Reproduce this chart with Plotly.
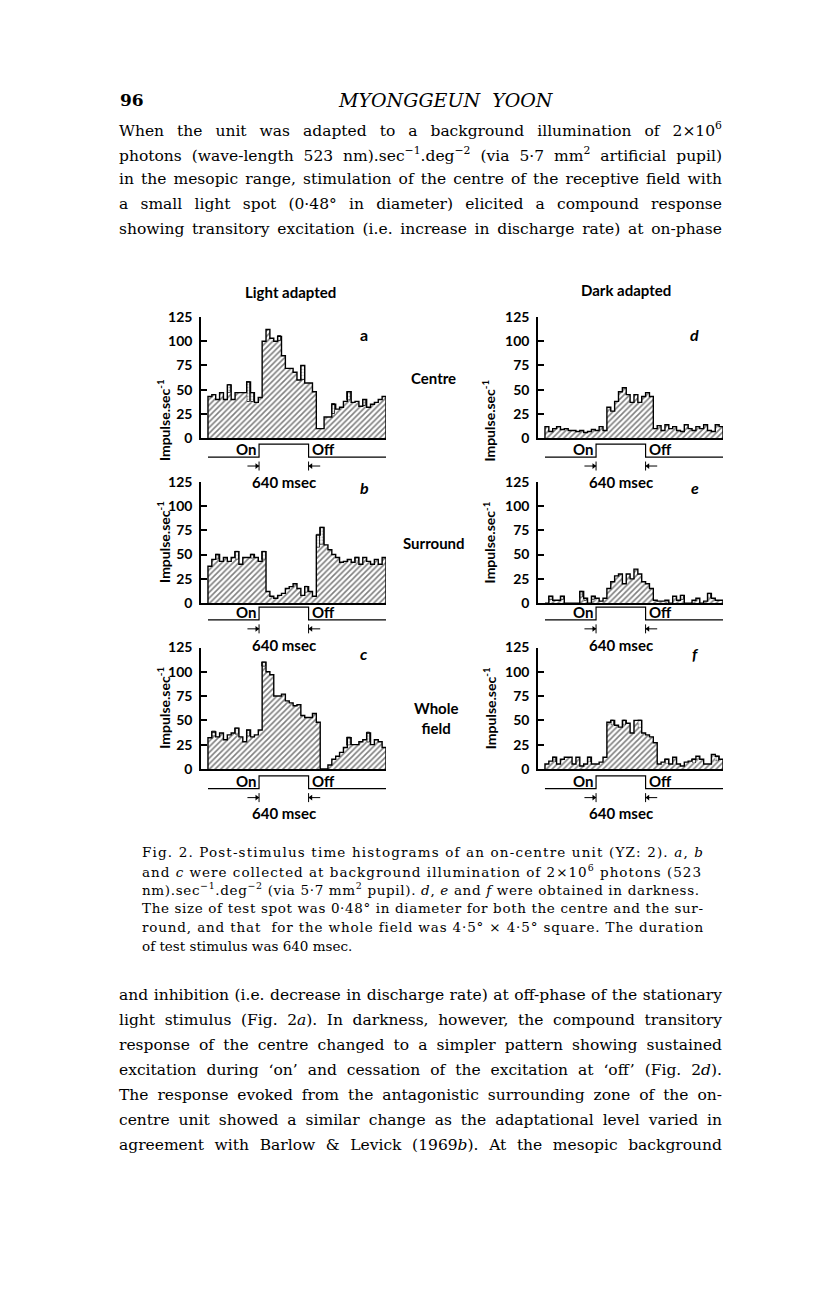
import json
import plotly.graph_objects as go

W, H = 816, 1296

# time base (msec): 46 bins of 50 msec, 640 msec light stimulus
bin_ms = 50
stim_on = 660
stim_off = 1300
t_end = 2300
arrow_ms = 150
yticks = [0, 25, 50, 75, 100, 125]

# impulse rates (impulse/sec) per bin
rate_a = [43, 45, 40, 47, 40, 55, 40, 47, 47, 47, 58, 47, 37, 42, 100, 112,
          103, 100, 105, 85, 72, 72, 68, 60, 75, 57, 57, 48, 10, 10, 22, 22,
          35, 30, 32, 38, 48, 37, 38, 33, 40, 32, 35, 37, 40, 43]
dots_a = [0, 0, 0, 0, 0, 8, 0, 0, 0, 0, 21, 10, 0, 0, 0, 0,
          0, 0, 5, 0, 0, 0, 0, 0, 15, 0, 0, 0, 0, 0, 0, 0,
          10, 0, 0, 0, 8, 0, 0, 0, 7, 0, 0, 0, 0, 0]

rate_b = [38, 45, 50, 43, 47, 43, 47, 53, 40, 47, 47, 50, 47, 43, 53, 12,
          7, 5, 8, 10, 15, 17, 20, 15, 8, 17, 12, 7, 70, 78, 60, 55,
          50, 47, 42, 43, 45, 42, 47, 40, 47, 43, 40, 45, 40, 47]
dots_b = [0, 0, 5, 0, 0, 0, 0, 8, 0, 0, 0, 4, 0, 0, 8, 0,
          0, 0, 0, 0, 0, 0, 0, 0, 0, 6, 0, 0, 13, 18, 0, 0,
          0, 0, 0, 0, 0, 0, 4, 0, 0, 0, 0, 0, 0, 0]

rate_c = [32, 38, 33, 37, 30, 35, 37, 42, 33, 28, 40, 33, 35, 40, 110, 100,
          97, 75, 75, 77, 70, 68, 65, 66, 55, 53, 53, 57, 48, 0, 0, 4,
          10, 13, 17, 22, 32, 25, 25, 28, 30, 37, 25, 30, 28, 22]
dots_c = [0, 5, 0, 0, 0, 0, 0, 7, 0, 0, 7, 0, 0, 0, 5, 0,
          0, 0, 0, 0, 0, 0, 0, 0, 0, 0, 0, 0, 0, 0, 0, 0,
          0, 0, 0, 0, 8, 0, 0, 0, 0, 10, 0, 0, 0, 0]

rate_d = [12, 7, 10, 12, 9, 10, 8, 8, 7, 8, 6, 7, 9, 8, 12, 8,
          32, 28, 38, 48, 52, 45, 37, 45, 37, 43, 47, 43, 10, 13, 8, 14,
          10, 12, 8, 7, 14, 10, 8, 12, 10, 14, 8, 7, 14, 12]
dots_d = [0] * 46

rate_e = [0, 7, 3, 3, 7, 0, 0, 0, 0, 12, 5, 0, 7, 5, 2, 5,
          15, 22, 28, 30, 20, 30, 25, 35, 30, 22, 20, 15, 3, 2, 2, 3,
          0, 7, 3, 8, 0, 0, 3, 5, 0, 2, 10, 5, 3, 3]
dots_e = [0, 4, 0, 0, 4, 0, 0, 0, 0, 6, 3, 0, 4, 0, 0, 0,
          0, 0, 0, 0, 0, 0, 0, 0, 0, 0, 0, 0, 0, 0, 0, 0,
          0, 0, 0, 5, 0, 0, 0, 0, 0, 0, 5, 0, 0, 0]

rate_f = [5, 8, 12, 5, 10, 12, 12, 5, 12, 3, 5, 12, 5, 5, 7, 12,
          48, 50, 45, 43, 50, 47, 37, 50, 50, 37, 35, 33, 27, 5, 7, 10,
          5, 12, 5, 3, 7, 8, 10, 13, 10, 5, 5, 15, 13, 10]
dots_f = [0, 0, 5, 0, 0, 0, 0, 0, 0, 0, 0, 5, 0, 0, 0, 0,
          0, 5, 0, 0, 5, 0, 0, 0, 8, 0, 0, 0, 0, 0, 0, 5,
          0, 0, 0, 0, 0, 0, 4, 0, 0, 0, 0, 0, 5, 0]

# panel: letter, rates, dotted tops, column (0 light / 1 dark), row
panels = [
    ("a", rate_a, dots_a, 0, 0),
    ("b", rate_b, dots_b, 0, 1),
    ("c", rate_c, dots_c, 0, 2),
    ("d", rate_d, dots_d, 1, 0),
    ("e", rate_e, dots_e, 1, 1),
    ("f", rate_f, dots_f, 1, 2),
]

col_x = [(201, 386), (538, 723)]        # pixel span of each column's axes
row_y = [(312, 435), (479, 602), (647, 770)]  # pixel span of 0..125
stim_base = [454, 619, 790]             # pixel y of stimulus baseline

SANS = "Lato"
SERIF = "DejaVu Serif"


def fx(px):
    return px / W


def fy(py):
    return 1 - py / H


fig = go.Figure()
layout = {}
annotations = []

for k, (letter, rates, dots, col, row) in enumerate(panels, start=1):
    xa, ya, ys = f"x{k}", f"y{k}", f"y{k + 6}"
    n = len(rates)
    edges = [i * bin_ms for i in range(n)]
    base = [r - d for r, d in zip(rates, dots)]

    # hatched area (up to the start of any dotted top)
    fig.add_trace(go.Scatter(
        x=[0] + edges + [t_end, t_end], y=[0] + base + [base[-1], 0],
        mode="lines", line=dict(width=0, shape="hv"), fill="tozeroy",
        fillcolor="white",
        fillpattern=dict(shape="/", fgcolor="black", bgcolor="white",
                         size=4, solidity=0.4),
        xaxis=xa, yaxis=ya, hoverinfo="skip", showlegend=False))

    # dotted tops
    dx = [e + bin_ms / 2 for e, d in zip(edges, dots) if d > 0]
    dy = [d for d in dots if d > 0]
    db = [b for b, d in zip(base, dots) if d > 0]
    if dx:
        fig.add_trace(go.Bar(
            x=dx, y=dy, base=db, width=bin_ms * 0.9,
            marker=dict(color="white", line=dict(color="black", width=0.8),
                        pattern=dict(shape=".", fgcolor="#444", bgcolor="white",
                                     size=3, solidity=0.35)),
            xaxis=xa, yaxis=ya, hoverinfo="skip", showlegend=False))

    # step outline
    fig.add_trace(go.Scatter(
        x=[0] + edges + [t_end, t_end], y=[0] + rates + [rates[-1], 0],
        mode="lines", line=dict(color="black", width=1.4, shape="hv"),
        xaxis=xa, yaxis=ya, hoverinfo="skip", showlegend=False))

    # stimulus trace
    fig.add_trace(go.Scatter(
        x=[0, stim_on, stim_on, stim_off, stim_off, t_end],
        y=[0, 0, 1, 1, 0, 0], mode="lines",
        line=dict(color="black", width=1.2),
        xaxis=xa, yaxis=ys, hoverinfo="skip", showlegend=False))
    # arrows marking the 640 msec stimulus: -->|  |<--
    fig.add_trace(go.Scatter(
        x=[stim_on, stim_on, None, stim_off, stim_off, None,
           stim_on - arrow_ms, stim_on, None, stim_off, stim_off + arrow_ms],
        y=[-0.35, -1.05, None, -0.35, -1.05, None,
           -0.7, -0.7, None, -0.7, -0.7],
        mode="lines", line=dict(color="black", width=1),
        xaxis=xa, yaxis=ys, hoverinfo="skip", showlegend=False))
    fig.add_trace(go.Scatter(
        x=[stim_on - 30, stim_off + 30], y=[-0.7, -0.7], mode="markers",
        marker=dict(symbol=["triangle-right", "triangle-left"], size=5,
                    color="black"),
        xaxis=xa, yaxis=ys, hoverinfo="skip", showlegend=False))

    x0, x1 = col_x[col]
    y0, y1 = row_y[row]
    sb = stim_base[row]
    key = "" if k == 1 else str(k)
    layout[f"xaxis{key}"] = dict(
        domain=[fx(x0), fx(x1)], range=[-90, t_end], anchor=f"y{key}",
        showline=True, linecolor="black", linewidth=1.5, ticks="",
        showticklabels=False, showgrid=False, zeroline=False, fixedrange=True)
    layout[f"yaxis{key}"] = dict(
        domain=[fy(y1), fy(y0)], range=[0, 125], anchor=f"x{key}",
        showline=True, linecolor="black", linewidth=1.5,
        ticks="inside", ticklen=6, tickwidth=1.5, tickcolor="black",
        tickvals=yticks, ticklabelstandoff=4,
        tickfont=dict(family=SANS, size=14, color="black", weight="bold"),
        showgrid=False, zeroline=False, fixedrange=True)
    layout[f"yaxis{k + 6}"] = dict(
        domain=[fy(sb + 19.5), fy(sb - 19.5)], range=[-1.5, 1.5],
        anchor=f"x{key}", visible=False, fixedrange=True)

    lab = dict(family=SANS, size=15, color="black", weight="bold")
    annotations.append(dict(x=stim_on, y=0.62, xref=xa, yref=ys, text="On",
                            xanchor="right", xshift=-1, showarrow=False, font=lab))
    annotations.append(dict(x=stim_off, y=0.62, xref=xa, yref=ys, text="Off",
                            xanchor="left", xshift=1, showarrow=False, font=lab))
    annotations.append(dict(
        x=(stim_on + stim_off) / 2, y=fy(sb + 25), xref=xa, yref="paper",
        text="640 msec", showarrow=False, font=lab))

    # y title
    annotations.append(dict(
        x=fx(x0 - 49), y=fy((y0 + y1) / 2), xref="paper", yref="paper",
        text="Impulse.sec<sup>-1</sup>", textangle=-90, showarrow=False,
        font=dict(family=SANS, size=14, color="black", weight="bold")))

    # panel letter
    annotations.append(dict(
        x=fx(x0 + 163), y=fy(y0 + 6), xref="paper", yref="paper",
        text=letter if letter == "a" else f"<i>{letter}</i>", showarrow=False,
        font=dict(family=SANS, size=16, color="black", weight="bold")))

justify = []  # [annotation index, target width px, mode]


def txt(x, y, s, size, family=SERIF, anchor="left", width=None, mode="word", **kw):
    if width:
        justify.append([len(annotations), width, mode])
    annotations.append(dict(
        x=fx(x), y=fy(y), xref="paper", yref="paper", text=s,
        xanchor=anchor, yanchor="middle", align=anchor,
        showarrow=False,
        font=dict(family=family, size=size, color="black", **kw)))


# column and row labels
txt(290, 287, "Light adapted", 15, SANS, "center", weight="bold")
txt(626, 285, "Dark adapted", 15, SANS, "center", weight="bold")
txt(433, 374, "Centre", 15, SANS, "center", weight="bold")
txt(434, 541, "Surround", 15, SANS, "center", weight="bold")
txt(436, 718, "Whole<br>field", 15, SANS, "center", weight="bold")

# page header
txt(118, 92, "96", 17, weight="bold")
txt(446, 92, "<i>MYONGGEUN  YOON</i>", 19, anchor="center")

body_top = [
    "When the unit was adapted to a background illumination of 2×10<sup>6</sup>",
    "photons (wave-length 523 nm).sec<sup>−1</sup>.deg<sup>−2</sup> (via 5·7 mm<sup>2</sup> artificial pupil)",
    "in the mesopic range, stimulation of the centre of the receptive field with",
    "a small light spot (0·48° in diameter) elicited a compound response",
    "showing transitory excitation (i.e. increase in discharge rate) at on-phase",
]
for i, line in enumerate(body_top):
    txt(117, 122.5 + i * 25, line, 15.5, width=603)

caption = [
    "Fig. 2. Post-stimulus time histograms of an on-centre unit (YZ: 2). <i>a</i>, <i>b</i>",
    "and <i>c</i> were collected at background illumination of 2×10<sup>6</sup> photons (523",
    "nm).sec<sup>−1</sup>.deg<sup>−2</sup> (via 5·7 mm<sup>2</sup> pupil). <i>d</i>, <i>e</i> and <i>f</i> were obtained in darkness.",
    "The size of test spot was 0·48° in diameter for both the centre and the sur-",
    "round, and that  for the whole field was 4·5° × 4·5° square. The duration",
    "of test stimulus was 640 msec.",
]
for i, line in enumerate(caption):
    last = i == len(caption) - 1
    txt(140, 854 + i * 19, line, 13.5, width=None if last else 561, mode="letter")

body_bottom = [
    "and inhibition (i.e. decrease in discharge rate) at off-phase of the stationary",
    "light stimulus (Fig. 2<i>a</i>). In darkness, however, the compound transitory",
    "response of the centre changed to a simpler pattern showing sustained",
    "excitation during ‘on’ and cessation of the excitation at ‘off’ (Fig. 2<i>d</i>).",
    "The response evoked from the antagonistic surrounding zone of the on-",
    "centre unit showed a similar change as the adaptational level varied in",
    "agreement with Barlow &amp; Levick (1969<i>b</i>). At the mesopic background",
]
for i, line in enumerate(body_bottom):
    txt(117, 999 + i * 25.3, line, 15.5, width=603)

fig.update_layout(
    width=W, height=H, margin=dict(l=0, r=0, t=0, b=0),
    paper_bgcolor="white", plot_bgcolor="rgba(0,0,0,0)",
    showlegend=False, annotations=annotations, bargap=0, **layout)

# page has no margin; justify the printed text lines to the column width
post = """
document.body.style.margin = '0px';
var gd = document.getElementById('{plot_id}');
var J = %s;
J.forEach(function (p) {
  var t = gd.querySelector('.annotation[data-index="' + p[0] + '"] text');
  if (!t) return;
  var s = t.textContent;
  var w = t.getComputedTextLength();
  if (p[2] === 'letter') {
    t.style.letterSpacing = ((p[1] - w) / Math.max(s.length - 1, 1)) + 'px';
  } else {
    var n = (s.match(/ /g) || []).length;
    if (n > 0) t.style.wordSpacing = ((p[1] - w) / n) + 'px';
  }
});
""" % json.dumps(justify)

fig.write_html("out.html", config={"displayModeBar": False}, post_script=post)
